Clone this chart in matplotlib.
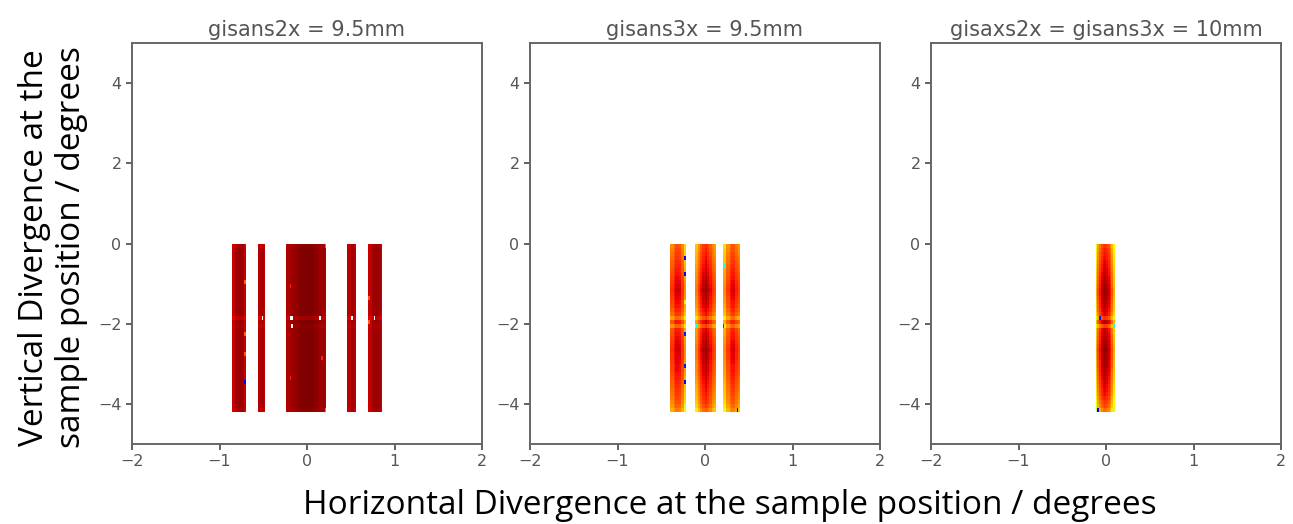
import numpy as np
import matplotlib
matplotlib.use("Agg")
import matplotlib.pyplot as plt

# panel titles
titles = ["gisans2x = 9.5mm", "gisans3x = 9.5mm", "gisaxs2x = gisans3x = 10mm"]

# strips per panel: (x start, x end, intensity across the strip, left -> right)
strips_1 = [
    (-0.85, -0.70, [0.94, 0.97, 0.98, 0.97, 0.94]),
    (-0.56, -0.47, [0.95, 0.97, 0.95]),
    (-0.24, 0.23, [0.96, 0.97, 0.98, 0.99, 1.0, 1.0, 1.0, 1.0, 0.99, 0.98, 0.97, 0.95]),
    (0.47, 0.56, [0.95, 0.97, 0.95]),
    (0.71, 0.86, [0.94, 0.97, 0.98, 0.97, 0.94]),
]
strips_2 = [
    (-0.40, -0.21, [0.88, 0.92, 0.95, 0.94, 0.88, 0.78]),
    (-0.12, 0.12, [0.80, 0.87, 0.93, 0.97, 1.0, 0.97, 0.93, 0.88, 0.85]),
    (0.21, 0.40, [0.78, 0.87, 0.92, 0.94, 0.90, 0.86]),
]
strips_3 = [
    (-0.11, 0.11, [0.74, 0.85, 0.91, 0.96, 0.99, 1.0, 0.98, 0.95, 0.90, 0.83, 0.74]),
]

# vertical profile, rows of 0.1 deg from -4.2 (bottom) up to 0 (top)
yprof_1 = [0.99, 1.0, 1.0, 1.0, 1.0, 1.0, 1.0, 1.0, 1.0, 1.0,
           1.0, 1.0, 1.0, 1.0, 1.0, 1.0, 1.0, 1.0, 1.0, 1.0,
           1.0, 0.99, 1.0, 0.97, 1.0, 1.0, 1.0, 1.0, 1.0, 1.0,
           1.0, 1.0, 1.0, 1.0, 1.0, 1.0, 1.0, 1.0, 1.0, 1.0,
           1.0, 0.99]
yprof_2 = [0.82, 0.85, 0.87, 0.88, 0.89, 0.90, 0.91, 0.92, 0.93, 0.94,
           0.95, 0.95, 0.96, 0.97, 0.97, 0.98, 0.97, 0.96, 0.95, 0.94,
           0.93, 0.85, 0.93, 0.84, 0.90, 0.92, 0.94, 0.95, 0.96, 0.97,
           0.98, 0.97, 0.96, 0.95, 0.94, 0.93, 0.92, 0.91, 0.90, 0.89,
           0.88, 0.87]
yprof_3 = [0.80, 0.84, 0.86, 0.88, 0.90, 0.91, 0.92, 0.93, 0.94, 0.95,
           0.96, 0.97, 0.97, 0.98, 0.98, 0.99, 0.98, 0.97, 0.96, 0.95,
           0.94, 0.85, 0.96, 0.86, 0.92, 0.94, 0.95, 0.96, 0.97, 0.98,
           0.98, 0.97, 0.96, 0.95, 0.94, 0.93, 0.92, 0.91, 0.90, 0.89,
           0.88, 0.86]

# odd single pixels: (x, y, value) ; nan = empty (white)
spots_1 = [(-0.71, -0.95, 0.80), (-0.71, -2.25, 0.80), (-0.71, -2.75, 0.82),
           (-0.71, -3.45, 0.12), (0.71, -1.35, 0.82), (0.71, -1.95, 0.80),
           (-0.51, -1.85, np.nan), (-0.19, -1.85, np.nan), (-0.17, -1.85, np.nan),
           (0.15, -1.85, np.nan), (0.51, -1.85, np.nan), (0.77, -1.85, np.nan),
           (-0.17, -2.05, np.nan), (0.21, -0.05, 0.80), (0.21, -4.15, 0.78),
           (-0.19, -1.05, 0.88), (0.17, -2.85, 0.87), (-0.19, -3.35, 0.88)]
spots_2 = [(-0.23, -0.35, 0.12), (-0.23, -0.75, 0.12), (-0.23, -2.25, 0.15),
           (-0.23, -3.05, 0.15), (-0.23, -3.45, 0.12), (0.37, -4.15, 0.12),
           (-0.09, -2.05, 0.38), (0.23, -0.55, 0.40), (0.37, -1.85, 0.40),
           (0.21, -2.05, 0.20), (-0.23, -4.05, 0.60), (-0.23, -1.45, 0.65)]
spots_3 = [(-0.07, -1.85, 0.15), (-0.09, -4.15, 0.12), (0.09, -2.05, 0.40),
           (0.09, -1.85, 0.60)]

panels = [(strips_1, yprof_1, spots_1),
          (strips_2, yprof_2, spots_2),
          (strips_3, yprof_3, spots_3)]

# histogram grid
xe = np.arange(-1.0, 1.0001, 0.02)
ye = np.arange(-4.2, 0.0001, 0.1)
xc = 0.5 * (xe[1:] + xe[:-1])
yc = 0.5 * (ye[1:] + ye[:-1])


def build_grid(strips, yprof, spots):
    H = np.full((len(yc), len(xc)), np.nan)
    yp = np.asarray(yprof)
    for x0, x1, levels in strips:
        cols = np.where((xc >= x0) & (xc < x1))[0]
        n = len(cols)
        for k, c in enumerate(cols):
            lev = levels[min(int(k * len(levels) / n), len(levels) - 1)]
            H[:, c] = yp * lev
    for sx, sy, v in spots:
        i = np.argmin(np.abs(yc - sy))
        j = np.argmin(np.abs(xc - sx))
        if not np.isnan(H[i, j]) or np.isnan(v):
            H[i, j] = v
    return np.ma.masked_invalid(H)


fig = plt.figure(figsize=(12.93, 5.24), dpi=100)
lefts = [132, 530, 931]
W, Hpx = 1293.0, 524.0
axes = []
for n, (left, title) in enumerate(zip(lefts, titles)):
    ax = fig.add_axes([left / W, (524 - 444) / Hpx, 350 / W, 401 / Hpx])
    strips, yprof, spots = panels[n]
    grid = build_grid(strips, yprof, spots)
    ax.pcolormesh(xe, ye, grid, cmap="jet", vmin=0, vmax=1, shading="flat")
    ax.set_xlim(-2, 2)
    ax.set_ylim(-5, 5)
    ax.set_xticks([-2, -1, 0, 1, 2])
    ax.set_yticks([-4, -2, 0, 2, 4])
    ax.tick_params(colors="#555555", labelsize=11.5, length=4, width=1.3)
    for s in ax.spines.values():
        s.set_color("#666666")
        s.set_linewidth(1.4)
    ax.set_title(title, fontsize=15, color="#555555", pad=5)
    axes.append(ax)

fig.text(0.5646, 0.036, "Horizontal Divergence at the sample position / degrees",
         ha="center", va="center", fontsize=24, family="Open Sans", color="black")
fig.text(0.041, 0.528, "Vertical Divergence at the\nsample position / degrees",
         ha="center", va="center", rotation=90, fontsize=24, family="Open Sans",
         color="black", linespacing=1.15)

fig.savefig("out.png", dpi=100)
